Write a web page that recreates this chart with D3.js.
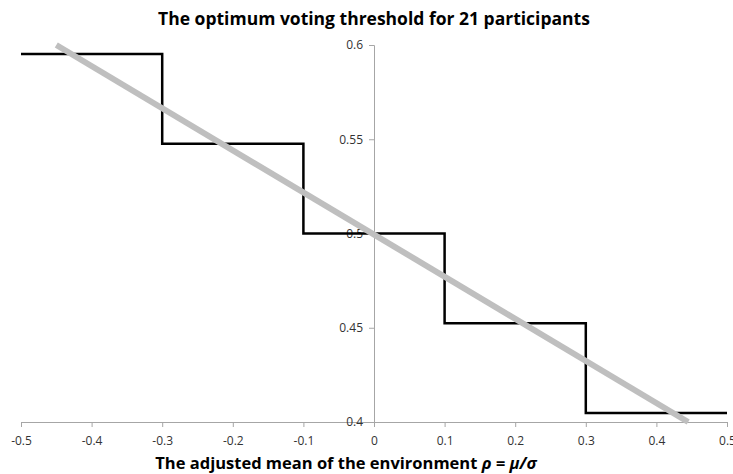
<!DOCTYPE html>
<html>
<head>
<meta charset="utf-8">
<script src="https://cdn.jsdelivr.net/npm/d3@7"></script>
<style>
  body { margin: 0; background: #fff; }
  text { font-family: "Open Sans", sans-serif; }
</style>
</head>
<body>
<script>
// step values: threshold (k + 0.5) / 21 between breakpoints
let stepX = [-0.5, -0.3, -0.1, 0.1, 0.3, 0.5]
let stepY = [12.5 / 21, 11.5 / 21, 10.5 / 21, 9.5 / 21, 8.5 / 21]
let trendX = [-0.45, 0.445]
let trendY = [0.6, 0.4]
let xTicks = [-0.5, -0.4, -0.3, -0.2, -0.1, 0, 0.1, 0.2, 0.3, 0.4, 0.5]
let yTicks = [0.4, 0.45, 0.5, 0.55, 0.6]

let width = 733, height = 474

let x = d3.scaleLinear().domain([-0.5, 0.5]).range([21, 727])
let y = d3.scaleLinear().domain([0.4, 0.6]).range([422, 45])

let svg = d3.select('body').append('svg')
    .attr('width', width)
    .attr('height', height)

svg.append('text')
    .attr('x', 374)
    .attr('y', 25)
    .attr('text-anchor', 'middle')
    .style('font-size', '17.5px')
    .style('font-weight', 'bold')
    .text('The optimum voting threshold for 21 participants')

// x axis at the bottom
let xAxis = svg.append('g')
    .attr('transform', 'translate(0,' + y(0.4) + ')')
    .call(d3.axisBottom(x).tickValues(xTicks).tickSizeOuter(0).tickSize(5)
        .tickFormat(d => String(+d.toFixed(1))))
xAxis.select('.domain').attr('stroke', '#a6a6a6')
xAxis.selectAll('.tick line').attr('stroke', '#a6a6a6')
xAxis.selectAll('.tick text')
    .attr('dy', '0')
    .attr('y', 23)
    .style('font-size', '12px')
    .attr('fill', '#333')

// y axis at x = 0
let yAxis = svg.append('g')
    .attr('transform', 'translate(' + x(0) + ',0)')
    .call(d3.axisLeft(y).tickValues(yTicks).tickSizeOuter(0).tickSize(5)
        .tickFormat(d => String(+d.toFixed(2))))
yAxis.select('.domain').attr('stroke', '#a6a6a6')
yAxis.selectAll('.tick line').attr('stroke', '#a6a6a6')
yAxis.selectAll('.tick text')
    .attr('x', -11)
    .style('font-size', '12px')
    .attr('fill', '#333')

// step function
let steps = []
stepY.forEach((v, i) => {
    steps.push([stepX[i], v])
    steps.push([stepX[i + 1], v])
})
svg.append('path')
    .datum(steps)
    .attr('fill', 'none')
    .attr('stroke', '#000')
    .attr('stroke-width', 2.5)
    .attr('d', d3.line().x(d => x(d[0])).y(d => y(d[1])))

// linear approximation
svg.append('path')
    .datum(trendX.map((v, i) => [v, trendY[i]]))
    .attr('fill', 'none')
    .attr('stroke', '#bfbfbf')
    .attr('stroke-width', 6)
    .attr('d', d3.line().x(d => x(d[0])).y(d => y(d[1])))

let title = svg.append('text')
    .attr('x', 346)
    .attr('y', 469)
    .attr('text-anchor', 'middle')
    .style('font-size', '16.5px')
    .style('font-weight', 'bold')
title.append('tspan').text('The adjusted mean of the environment  ')
title.append('tspan').style('font-style', 'italic').text('ρ = μ/σ')
</script>
</body>
</html>
